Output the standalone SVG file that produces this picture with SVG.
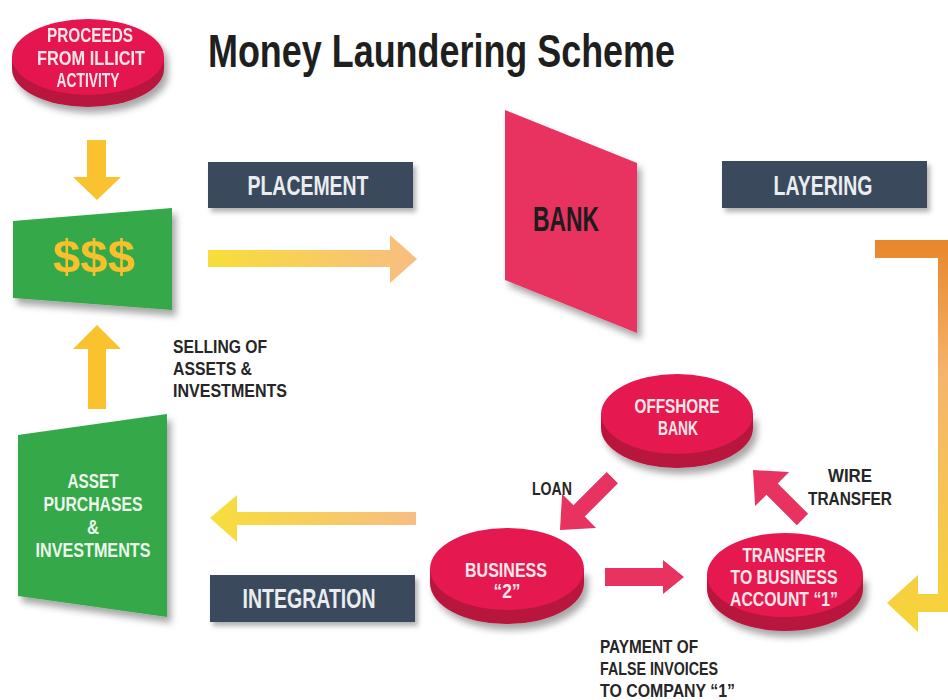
<svg xmlns="http://www.w3.org/2000/svg" width="948" height="700" viewBox="0 0 948 700">
  <defs>
    <filter id="sh" x="-20%" y="-20%" width="150%" height="160%">
      <feDropShadow dx="4" dy="6" stdDeviation="3.5" flood-color="#000" flood-opacity="0.35"/>
    </filter>
    <filter id="shs" x="-20%" y="-20%" width="150%" height="160%">
      <feDropShadow dx="3" dy="4" stdDeviation="2.5" flood-color="#000" flood-opacity="0.3"/>
    </filter>
    <linearGradient id="gRight" x1="0" y1="0" x2="1" y2="0">
      <stop offset="0" stop-color="#f7de3a"/>
      <stop offset="1" stop-color="#f8bd82"/>
    </linearGradient>
    <linearGradient id="gLeft" x1="0" y1="0" x2="1" y2="0">
      <stop offset="0" stop-color="#f7de3a"/>
      <stop offset="1" stop-color="#f8bd82"/>
    </linearGradient>
    <linearGradient id="gOrange" gradientUnits="userSpaceOnUse" x1="0" y1="240" x2="0" y2="632">
      <stop offset="0" stop-color="#e8862c"/>
      <stop offset="0.35" stop-color="#f6b56c"/>
      <stop offset="1" stop-color="#f6d536"/>
    </linearGradient>
  </defs>
  <style>
    text { font-family: "Liberation Sans", Arial, sans-serif; font-weight: bold; }
    .disc-top { fill: #e5194f; }
    .disc-rim { fill: #b9133d; }
    .disc-t { fill: #fbe6ea; font-size: 20px; text-anchor: middle; }
    .box { fill: #3b4a5b; }
    .box-t { fill: #e9edf0; font-size: 28px; text-anchor: middle; }
    .green { fill: #35a84a; }
    .green-t { fill: #eef7ee; font-size: 20px; text-anchor: middle; }
    .lbl { fill: #262626; font-size: 19px; }
    .yel { fill: #f9c22e; }
    .pink { fill: #e8325f; }
  </style>
  <rect width="948" height="700" fill="#ffffff"/>

  <text id="title" x="208" y="67" font-size="47" fill="#1f1f1f" textLength="467" lengthAdjust="spacingAndGlyphs">Money Laundering Scheme</text>

  <g id="connectors">
    <polygon class="yel" points="87,140 106,140 106,177 121,177 97,200 73,177 87,177"/>
    <polygon class="yel" points="88,409 106,409 106,349 121,349 97,325 73,349 88,349"/>
    <polygon fill="url(#gRight)" points="208,250 390,250 390,235 417,259 390,283 390,267 208,267"/>
    <polygon fill="url(#gLeft)" points="416,512 237,512 237,495 210,518 237,542 237,525 416,525"/>
    <path fill="url(#gOrange)" d="M875,240 L956,240 L956,612 L918,612 L918,632 L887,603 L918,575 L918,594 L938,594 L938,258 L875,258 Z"/>
    <polygon class="pink" transform="translate(560,530) rotate(135)" points="-74,-8 -27,-8 -27,-24 0,0 -27,24 -27,8 -74,8"/>
    <polygon class="pink" transform="translate(753,470) rotate(225)" points="-70,-8 -27,-8 -27,-24 0,0 -27,24 -27,8 -70,8"/>
    <polygon class="pink" points="605,568 663,568 663,560 684,577 663,594 663,586 605,586"/>
    <text class="lbl" x="552" y="495" text-anchor="middle" font-size="18" textLength="40" lengthAdjust="spacingAndGlyphs">LOAN</text>
    <text class="lbl" x="850" y="482" text-anchor="middle" font-size="18" textLength="44" lengthAdjust="spacingAndGlyphs">WIRE</text>
    <text class="lbl" x="850" y="505" text-anchor="middle" font-size="18" textLength="84" lengthAdjust="spacingAndGlyphs">TRANSFER</text>
    <text class="lbl" x="173" y="353" textLength="94" lengthAdjust="spacingAndGlyphs">SELLING OF</text>
    <text class="lbl" x="173" y="375" textLength="79" lengthAdjust="spacingAndGlyphs">ASSETS &amp;</text>
    <text class="lbl" x="173" y="397" textLength="114" lengthAdjust="spacingAndGlyphs">INVESTMENTS</text>
    <text class="lbl" x="600" y="653" textLength="98" lengthAdjust="spacingAndGlyphs">PAYMENT OF</text>
    <text class="lbl" x="600" y="675" textLength="118" lengthAdjust="spacingAndGlyphs">FALSE INVOICES</text>
    <text class="lbl" x="600" y="697" textLength="135" lengthAdjust="spacingAndGlyphs">TO COMPANY “1”</text>
  </g>

  <g id="proceeds" filter="url(#sh)">
    <path class="disc-rim" d="M12,57 L164,57 L164,69 A76,38 0 0 1 12,69 Z"/>
    <ellipse class="disc-top" cx="88" cy="57" rx="76" ry="38"/>
    <text class="disc-t" x="90" y="42" font-size="21" textLength="86" lengthAdjust="spacingAndGlyphs">PROCEEDS</text>
    <text class="disc-t" x="91" y="65" font-size="21" textLength="108" lengthAdjust="spacingAndGlyphs">FROM ILLICIT</text>
    <text class="disc-t" x="88" y="87" font-size="21" textLength="63" lengthAdjust="spacingAndGlyphs">ACTIVITY</text>
  </g>

  <g id="cash">
    <polygon class="green" filter="url(#sh)" points="13,221 172,208 172,310 13,298"/>
    <text x="94" y="273" font-size="47" fill="#f6c12c" text-anchor="middle" textLength="82" lengthAdjust="spacingAndGlyphs">$$$</text>
  </g>

  <g id="placement">
    <rect class="box" x="208" y="162" width="205" height="46" filter="url(#shs)"/>
    <text class="box-t" x="308" y="195" textLength="121" lengthAdjust="spacingAndGlyphs">PLACEMENT</text>
  </g>

  <g id="bank">
    <polygon fill="#e8325f" filter="url(#sh)" points="505,110 637,163 637,333 505,280"/>
    <text x="566" y="231" font-size="35" fill="#1c1c1c" text-anchor="middle" textLength="66" lengthAdjust="spacingAndGlyphs">BANK</text>
  </g>

  <g id="layering">
    <rect class="box" x="722" y="161" width="205" height="47" filter="url(#shs)"/>
    <text class="box-t" x="823" y="195" textLength="99" lengthAdjust="spacingAndGlyphs">LAYERING</text>
  </g>

  <g id="assets">
    <polygon class="green" filter="url(#sh)" points="18,435 167,414 167,617 18,596"/>
    <text class="green-t" x="93" y="488" textLength="51" lengthAdjust="spacingAndGlyphs">ASSET</text>
    <text class="green-t" x="93" y="511" textLength="99" lengthAdjust="spacingAndGlyphs">PURCHASES</text>
    <text class="green-t" x="93" y="534" textLength="12" lengthAdjust="spacingAndGlyphs">&amp;</text>
    <text class="green-t" x="93" y="557" textLength="115" lengthAdjust="spacingAndGlyphs">INVESTMENTS</text>
  </g>

  <g id="integration">
    <rect class="box" x="210" y="575" width="205" height="47" filter="url(#shs)"/>
    <text class="box-t" x="309" y="608" textLength="133" lengthAdjust="spacingAndGlyphs">INTEGRATION</text>
  </g>

  <g id="offshore">
    <path class="disc-rim" filter="url(#sh)" d="M601,414 L753,414 L753,428 A76,40 0 0 1 601,428 Z"/>
    <ellipse class="disc-top" cx="677" cy="414" rx="76" ry="40"/>
    <text class="disc-t" x="677" y="413" textLength="85" lengthAdjust="spacingAndGlyphs">OFFSHORE</text>
    <text class="disc-t" x="678" y="435" textLength="40" lengthAdjust="spacingAndGlyphs">BANK</text>
  </g>

  <g id="business2">
    <path class="disc-rim" filter="url(#sh)" d="M430,569 L584,569 L584,583 A77,41 0 0 1 430,583 Z"/>
    <ellipse class="disc-top" cx="507" cy="569" rx="77" ry="41"/>
    <text class="disc-t" x="506" y="577" textLength="82" lengthAdjust="spacingAndGlyphs">BUSINESS</text>
    <text class="disc-t" x="507" y="598" textLength="27" lengthAdjust="spacingAndGlyphs">“2”</text>
  </g>

  <g id="transfer1">
    <path class="disc-rim" filter="url(#sh)" d="M707,575 L863,575 L863,589 A78,42 0 0 1 707,589 Z"/>
    <ellipse class="disc-top" cx="785" cy="575" rx="78" ry="42"/>
    <text class="disc-t" x="784" y="562" textLength="83" lengthAdjust="spacingAndGlyphs">TRANSFER</text>
    <text class="disc-t" x="784" y="584" textLength="107" lengthAdjust="spacingAndGlyphs">TO BUSINESS</text>
    <text class="disc-t" x="784" y="606" textLength="108" lengthAdjust="spacingAndGlyphs">ACCOUNT “1”</text>
  </g>
</svg>
